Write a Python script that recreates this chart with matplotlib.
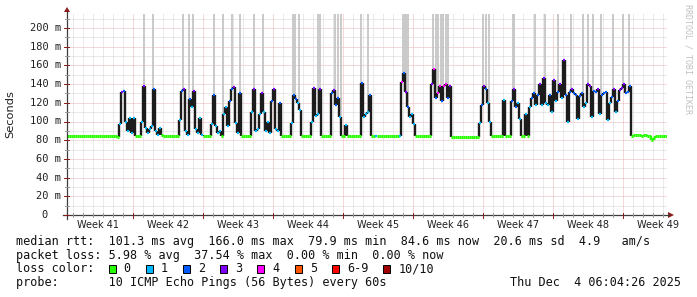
import numpy as np
import matplotlib
matplotlib.use("Agg")
import matplotlib.pyplot as plt
from matplotlib.collections import LineCollection
from matplotlib.patches import Rectangle, Polygon

# ---------------- data ----------------
step_days = 0.2  # one sample every 0.2 day (time axis in days from left edge)

median_ms = [
    84, 84, 85, 84, 84, 84, 85, 84, 84, 84,
    84, 84, 85, 84, 84, 84, 84, 85, 84, 84,
    84, 84, 84, 84, 85, 83, 97, 132, 133, 100,
    90, 104, 88, 104, 85, 84, 85, 100, 138, 93,
    88, 92, 95, 135, 90, 86, 93, 86, 84, 84,
    84, 84, 84, 84, 84, 84, 102, 133, 135, 90,
    86, 124, 115, 133, 92, 88, 104, 86, 84, 84,
    84, 84, 97, 128, 95, 88, 90, 84, 108, 115,
    95, 122, 135, 137, 98, 88, 130, 85, 84, 84,
    84, 84, 110, 135, 90, 92, 108, 131, 110, 90,
    100, 88, 122, 135, 92, 90, 120, 84, 84, 84,
    84, 84, 98, 128, 124, 120, 112, 85, 84, 84,
    84, 84, 100, 136, 106, 108, 135, 85, 84, 84,
    84, 84, 130, 134, 118, 125, 105, 84, 84, 96,
    84, 84, 84, 84, 84, 84, 84, 141, 105, 108,
    110, 128, 84, 84, 85, 84, 84, 84, 84, 84,
    84, 84, 84, 84, 84, 84, 84, 142, 152, 132,
    115, 105, 108, 97, 84, 84, 84, 84, 84, 84,
    84, 84, 140, 156, 125, 130, 138, 122, 138, 140,
    125, 138, 83, 83, 83, 83, 83, 83, 83, 83,
    83, 83, 83, 83, 83, 83, 98, 118, 138, 135,
    120, 100, 84, 84, 84, 84, 84, 84, 123, 84,
    84, 84, 122, 135, 115, 120, 103, 84, 84, 108,
    84, 115, 125, 130, 118, 128, 140, 118, 146, 120,
    118, 128, 110, 144, 122, 132, 140, 125, 166, 128,
    100, 132, 135, 130, 128, 103, 127, 130, 115, 120,
    140, 138, 105, 133, 132, 135, 108, 128, 130, 132,
    102, 120, 126, 135, 110, 122, 134, 136, 140, 130,
    132, 138, 85, 86, 86, 86, 86, 85, 86, 86,
    85, 84, 80, 82, 84, 85, 85, 85, 85, 85,
]

loss_level = [
    0, 0, 0, 0, 0, 0, 0, 0, 0, 0,
    0, 0, 0, 0, 0, 0, 0, 0, 0, 0,
    0, 0, 0, 0, 0, 0, 1, 3, 2, 1,
    1, 1, 1, 1, 0, 0, 0, 1, 3, 1,
    1, 1, 1, 2, 1, 1, 1, 0, 0, 0,
    0, 0, 0, 0, 0, 0, 1, 2, 3, 1,
    1, 2, 1, 3, 1, 1, 1, 1, 0, 0,
    0, 0, 1, 2, 1, 1, 1, 0, 1, 1,
    1, 2, 2, 3, 1, 1, 2, 0, 0, 0,
    0, 0, 1, 3, 1, 1, 1, 3, 1, 1,
    1, 1, 2, 3, 1, 1, 2, 0, 0, 0,
    0, 0, 1, 2, 2, 1, 1, 0, 0, 0,
    0, 0, 1, 3, 1, 1, 3, 0, 0, 0,
    0, 0, 2, 3, 2, 2, 1, 0, 0, 1,
    0, 0, 0, 0, 0, 0, 0, 2, 1, 1,
    1, 2, 0, 0, 1, 0, 0, 0, 0, 0,
    0, 0, 0, 0, 0, 0, 1, 4, 2, 3,
    2, 1, 1, 1, 0, 0, 0, 0, 0, 0,
    0, 0, 3, 4, 2, 4, 4, 2, 4, 4,
    2, 3, 0, 0, 0, 0, 0, 0, 0, 0,
    0, 0, 0, 0, 0, 0, 1, 2, 3, 2,
    1, 1, 0, 0, 0, 0, 0, 0, 1, 0,
    0, 0, 2, 3, 2, 1, 1, 0, 0, 1,
    0, 1, 2, 2, 1, 2, 3, 1, 3, 1,
    1, 2, 1, 3, 1, 2, 3, 1, 3, 2,
    1, 2, 3, 2, 2, 1, 2, 2, 1, 1,
    3, 3, 1, 2, 2, 3, 1, 2, 2, 2,
    1, 1, 2, 3, 1, 2, 3, 3, 3, 2,
    2, 2, 0, 0, 0, 0, 0, 0, 0, 0,
    0, 0, 0, 0, 0, 0, 0, 0, 0, 0,
]

# days at which the smoke (max ping) shoots above the chart
spike_days = [7.65, 8.6, 11.55, 12.2, 12.6, 14.65, 15.55, 16.5, 17.25, 18.65,
              19.55, 22.55, 22.75, 23.2, 25.1, 25.25, 26.8, 27.1, 27.35, 29.4,
              30.05, 33.6, 33.75, 33.9, 34.1, 36.6, 36.85, 37.1, 37.35, 37.6,
              37.85, 38.1, 41.55, 41.9, 42.2, 44.55, 44.7, 46.75, 47.8, 49.05,
              50.35, 51.6, 52.05, 52.6, 53.4, 54.6, 55.6, 56.2]

week_labels = ["Week 41", "Week 42", "Week 43", "Week 44", "Week 45",
               "Week 46", "Week 47", "Week 48", "Week 49"]
y_tick_values = [0, 20, 40, 60, 80, 100, 120, 140, 160, 180, 200]
y_tick_labels = ["0", "20 m", "40 m", "60 m", "80 m", "100 m", "120 m",
                 "140 m", "160 m", "180 m", "200 m"]

loss_names = ["0", "1", "2", "3", "4", "5", "6-9", "10/10"]
loss_colors = ["#26ff00", "#00b8ff", "#0059ff", "#7e00ff", "#ff00ff",
               "#ff5500", "#ff0000", "#a10000"]

stats_line = "median rtt:  101.3 ms avg  166.0 ms max  79.9 ms min  84.6 ms now  20.6 ms sd  4.9   am/s"
loss_line = "packet loss: 5.98 % avg  37.54 % max  0.00 % min  0.00 % now"
probe_line = "probe:       10 ICMP Echo Pings (56 Bytes) every 60s"
date_text = "Thu Dec  4 06:04:26 2025"
watermark = "RRDTOOL / TOBI OETIKER"

# ---------------- layout ----------------
W, H = 697, 297
DPI = 100
X0, X1 = 67, 667          # plot area in pixels
Y0, YT = 215, 13.5        # bottom / top pixel
PX_PER_MS = 0.935
DAYS = 60
YMAX = (Y0 - YT) / PX_PER_MS
MONO = "DejaVu Sans Mono"

fig = plt.figure(figsize=(W / DPI, H / DPI), dpi=DPI)
fig.patch.set_facecolor("white")
ax = fig.add_axes([X0 / W, (H - Y0) / H, (X1 - X0) / W, (Y0 - YT) / H])
ax.set_xlim(0, DAYS)
ax.set_ylim(0, YMAX)
for s in ax.spines.values():
    s.set_visible(False)
ax.set_xticks([])
ax.set_yticks([])

# grid
dot = (0, (1, 1))
for v in range(10, int(YMAX) + 1, 10):
    ax.axhline(v, color="#e8b4b4" if v % 20 == 0 else "#d4d4d4", lw=0.72,
               ls=dot, zorder=0)
for k in range(DAYS):
    d = 0.6 + k
    major = (k - 6) % 7 == 0
    ax.axvline(d, color="#e8b4b4" if major else "#d4d4d4", lw=0.72, ls=dot,
               zorder=0)

# smoke spikes, rising from the median to beyond the top of the chart
n = len(median_ms)
t = np.arange(n) * step_days
spike_base = [median_ms[min(int(d / step_days), n - 1)] for d in spike_days]
ax.vlines(spike_days, spike_base, YMAX + 5, colors="#c6c6c6", lw=1.3, zorder=1)

# median line, coloured by loss
vsegs, vcols = [], []
hsegs, hcols, hlw = [], [], []
for i in range(n):
    v = median_ms[i]
    L = loss_level[i]
    hsegs.append([(t[i], v), (t[i] + step_days, v)])
    hcols.append(loss_colors[L])
    hlw.append(2.2 if L == 0 else 1.6)
    if i + 1 < n:
        v2 = median_ms[i + 1]
        L2 = loss_level[i + 1]
        vsegs.append([(t[i] + step_days, v), (t[i] + step_days, v2)])
        vcols.append(loss_colors[0] if (L == 0 and L2 == 0) else "#1c1c1c")
ax.add_collection(LineCollection(vsegs, colors=vcols, linewidths=1.7,
                                 zorder=3, capstyle="butt"))
ax.add_collection(LineCollection(hsegs, colors=hcols, linewidths=hlw,
                                 zorder=4, capstyle="butt"))

# ---------------- overlay (pixel coordinates) ----------------
ov = fig.add_axes([0, 0, 1, 1])
ov.set_xlim(0, W)
ov.set_ylim(H, 0)
ov.axis("off")
ov.patch.set_alpha(0)

axis_col = "#3c3c3c"
arrow_col = "#8b1a1a"
ov.plot([X0, X0], [Y0 + 4, 12], color=axis_col, lw=0.9)
ov.plot([X0 - 4, 669], [Y0, Y0], color=axis_col, lw=0.9)
ov.add_patch(Polygon([(X0 - 3, 12), (X0 + 3, 12), (X0, 7)], closed=True,
                     color=arrow_col, lw=0))
ov.add_patch(Polygon([(668, Y0 - 3), (668, Y0 + 3), (674, Y0)], closed=True,
                     color=arrow_col, lw=0))
# small ticks
for k in range(DAYS):
    xp = X0 + (0.6 + k) * 10
    major = (k - 6) % 7 == 0
    ov.plot([xp, xp], [Y0 - 2, Y0 + (3 if major else 2)],
            color=arrow_col if major else "#9a9a9a", lw=0.7)
for v in range(0, 211, 10):
    yp = Y0 - v * PX_PER_MS
    ov.plot([X0 - (3 if v % 20 == 0 else 2), X0 + 2], [yp, yp],
            color=arrow_col if v % 20 == 0 else "#9a9a9a", lw=0.7)

# y tick labels
for v, lab in zip(y_tick_values, y_tick_labels):
    yp = Y0 - v * PX_PER_MS
    xr = 48 if lab == "0" else 61
    ov.text(xr, yp, lab, ha="right", va="center", family=MONO, fontsize=7.5,
            color="#202020")

# week labels
for k, lab in enumerate(week_labels):
    xp = X0 + (3.1 + 7 * k) * 10
    ov.text(xp, 225.5, lab, ha="center", va="center", family="DejaVu Sans",
            fontsize=7, color="#202020")

ov.text(10, 114, "Seconds", rotation=90, ha="center", va="center",
        family="DejaVu Sans", fontsize=8.2, color="#202020")
ov.text(688, 4, watermark, rotation=270, ha="center", va="top", family=MONO,
        fontsize=6, color="#c0c0c0")

# legend lines
LX = 16
CW = 7.1
ov.text(LX, 241.5, stats_line, ha="left", va="center", family=MONO,
        fontsize=8.5, color="#101010")
ov.text(LX, 255, loss_line, ha="left", va="center", family=MONO,
        fontsize=8.5, color="#101010")
ov.text(LX, 268.5, "loss color:", ha="left", va="center", family=MONO,
        fontsize=8.5, color="#101010")
col = 13.05
for name, c in zip(loss_names, loss_colors):
    sx = LX + col * CW
    ov.add_patch(Rectangle((sx, 264.5), 7, 8, facecolor=c, edgecolor="black",
                           lw=0.7))
    ov.text(sx + 15, 268.5, name, ha="left", va="center", family=MONO,
            fontsize=8.5, color="#101010")
    col += len(name) + 4.24
ov.text(LX, 282.5, probe_line, ha="left", va="center", family=MONO,
        fontsize=8.5, color="#101010")
ov.text(681, 282.5, date_text, ha="right", va="center", family=MONO,
        fontsize=8.5, color="#101010")

fig.savefig("out.png", dpi=DPI, facecolor="white")
